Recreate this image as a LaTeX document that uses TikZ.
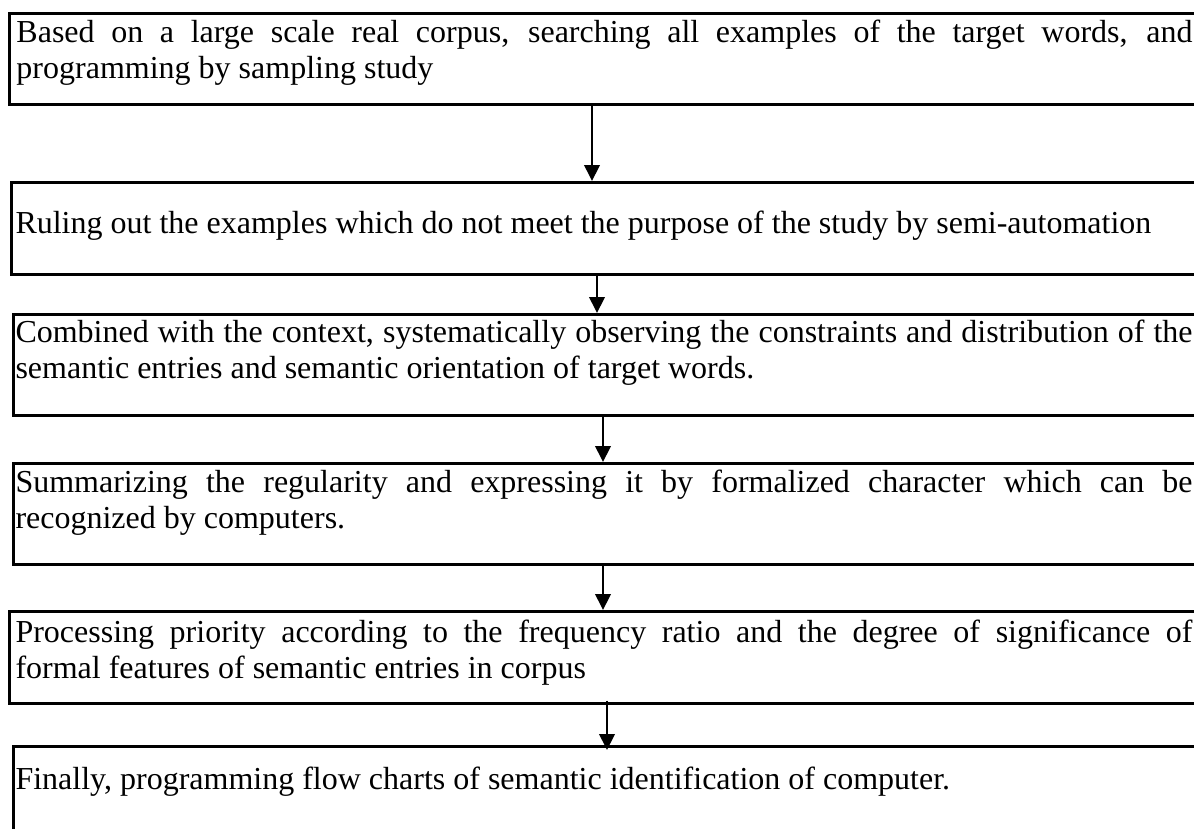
\documentclass[tikz,border=0pt]{standalone}
\usepackage{fontspec}
\setmainfont{Liberation Serif}
\usetikzlibrary{arrows.meta,calc}
\hyphenpenalty=10000
\exhyphenpenalty=10000
\begin{document}
\begin{tikzpicture}[x=0.4pt,y=-0.4pt,
  stepbox/.style={draw, line width=1pt, anchor=north west, inner sep=0pt},
  txt/.style={anchor=north west, inner sep=0pt, text width=470.8pt, align=justify, font=\fontsize{12.8}{14.2}\selectfont},
  arr/.style={line width=0.8pt, -{Triangle[width=6.2pt,length=6.4pt]}}]
\useasboundingbox (0,0) rectangle (1194,828);
\clip (0,0) rectangle (1194,828);
% boxes
\node[stepbox, minimum width=476.8pt, minimum height=36.4pt] (b1) at (8,12) {};
\node[stepbox, minimum width=476pt, minimum height=36.8pt] (b2) at (10,181) {};
\node[stepbox, minimum width=475.2pt, minimum height=40.4pt] (b3) at (12,313) {};
\node[stepbox, minimum width=475.2pt, minimum height=40.4pt] (b4) at (12,462) {};
\node[stepbox, minimum width=476.8pt, minimum height=36.8pt] (b5) at (8,610) {};
\node[stepbox, minimum width=475.2pt, minimum height=40pt] (b6) at (12,745) {};
% texts
\node[txt, text width=470.4pt] (t1) at (16,17.15) {\strut Based on a large scale real corpus, searching all examples of the target words, and\linebreak programming by sampling study};
\node[txt] (t2) at (15,208.15) {\strut Ruling out the examples which do not meet the purpose of the study by semi-automation};
\node[txt] (t3) at (15,317.15) {\strut Combined with the context, systematically observing the constraints and distribution of the\linebreak semantic entries and semantic orientation of target words.};
\node[txt] (t4) at (15,467.15) {\strut Summarizing the regularity and expressing it by formalized character which can be\linebreak recognized by computers.};
\node[txt] (t5) at (15,617.15) {\strut Processing priority according to the frequency ratio and the degree of significance of\linebreak formal features of semantic entries in corpus};
\node[txt] (t6) at (15,764.15) {\strut Finally, programming flow charts of semantic identification of computer.};
% arrows
\coordinate (x1) at (592,0);
\coordinate (x2) at (597,0);
\coordinate (x3) at (603,0);
\coordinate (x4) at (603,0);
\coordinate (x5) at (607,0);
\draw[arr] (x1 |- b1.south) -- (x1 |- b2.north);
\draw[arr] (x2 |- b2.south) -- (x2 |- b3.north);
\draw[arr] (x3 |- b3.south) -- (x3 |- b4.north);
\draw[arr] (x4 |- b4.south) -- (x4 |- b5.north);
\draw[arr] ($(x5 |- b5.south)+(0,-4)$) -- ($(x5 |- b6.north)+(0,5)$);
\end{tikzpicture}
\end{document}
